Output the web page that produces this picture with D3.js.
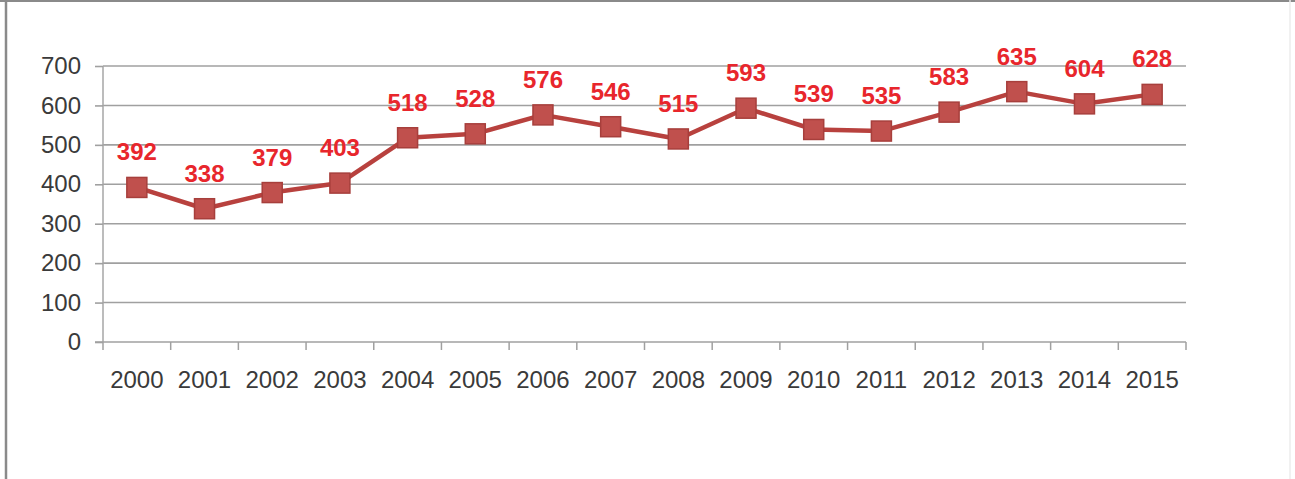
<!DOCTYPE html>
<html>
<head>
<meta charset="utf-8">
<script src="https://cdn.jsdelivr.net/npm/d3@7/dist/d3.min.js"></script>
<style>
  html, body { margin: 0; padding: 0; background: #fff; }
  svg { display: block; }
</style>
</head>
<body>
<svg id="chart" width="1295" height="479"></svg>
<script>
// Yearly totals, 2000–2015
const years = ["2000","2001","2002","2003","2004","2005","2006","2007","2008","2009","2010","2011","2012","2013","2014","2015"];
const values = [392, 338, 379, 403, 518, 528, 576, 546, 515, 593, 539, 535, 583, 635, 604, 628];
const yTicks = [0, 100, 200, 300, 400, 500, 600, 700];

(function draw() {
  const svg = d3.select("#chart");
  const W = 1295, H = 479;
  const font = "'Liberation Sans', Arial, sans-serif";

  // Outer frame
  svg.append("rect").attr("x", 0).attr("y", 0).attr("width", W).attr("height", H).attr("fill", "#fff");
  svg.append("line").attr("x1", 0).attr("x2", W).attr("y1", 1).attr("y2", 1).attr("stroke", "#8a8a8a").attr("stroke-width", 2);
  svg.append("line").attr("x1", 6).attr("x2", 6).attr("y1", 0).attr("y2", H).attr("stroke", "#8a8a8a").attr("stroke-width", 2.5);
  svg.append("line").attr("x1", 1290).attr("x2", 1290).attr("y1", 0).attr("y2", H).attr("stroke", "#ececec").attr("stroke-width", 1.5);

  const pLeft = 103, pRight = 1186, pTop = 66, pBottom = 342;

  const x = d3.scaleBand().domain(years).range([pLeft, pRight]).paddingInner(0).paddingOuter(0);
  const y = d3.scaleLinear().domain([0, 700]).range([pBottom, pTop]);

  // Horizontal gridlines
  svg.append("g")
    .selectAll("line")
    .data(yTicks.filter(d => d > 0))
    .join("line")
    .attr("x1", pLeft).attr("x2", pRight)
    .attr("y1", d => y(d)).attr("y2", d => y(d))
    .attr("stroke", "#a0a0a0").attr("stroke-width", 1.6);

  // Y axis
  const yAxis = svg.append("g")
    .attr("transform", `translate(${pLeft},0)`)
    .call(d3.axisLeft(y).tickValues(yTicks).tickSize(8).tickPadding(14).tickFormat(d3.format("d")));
  yAxis.select(".domain").attr("stroke", "#a6a6a6").attr("stroke-width", 1.5).attr("d", `M0,${pTop}V${pBottom}`);
  yAxis.selectAll(".tick line").attr("stroke", "#a0a0a0").attr("stroke-width", 1.6);
  yAxis.selectAll("text")
    .attr("fill", "#3a3a3a")
    .style("font-family", font)
    .style("font-size", "24px");

  // X axis with ticks at category boundaries
  const xAxisG = svg.append("g").attr("transform", `translate(0,${pBottom})`);
  xAxisG.append("line")
    .attr("x1", pLeft - 8).attr("x2", pRight)
    .attr("stroke", "#a0a0a0").attr("stroke-width", 1.6);
  const bounds = years.map(d => x(d)).concat([pRight]);
  xAxisG.selectAll("line.tk")
    .data(bounds)
    .join("line")
    .attr("class", "tk")
    .attr("x1", d => d).attr("x2", d => d)
    .attr("y1", 0).attr("y2", 8)
    .attr("stroke", "#a0a0a0").attr("stroke-width", 1.5);
  xAxisG.selectAll("text")
    .data(years)
    .join("text")
    .attr("x", d => x(d) + x.bandwidth() / 2)
    .attr("y", 46)
    .attr("text-anchor", "middle")
    .attr("fill", "#3a3a3a")
    .style("font-family", font)
    .style("font-size", "24px")
    .text(d => d);

  const cx = d => x(d) + x.bandwidth() / 2;
  const data = years.map((yr, i) => ({ yr, v: values[i] }));

  // Series line
  svg.append("path")
    .datum(data)
    .attr("fill", "none")
    .attr("stroke", "#b8413e")
    .attr("stroke-width", 4.5)
    .attr("stroke-linejoin", "round")
    .attr("d", d3.line().x(d => cx(d.yr)).y(d => y(d.v)));

  // Square markers
  const ms = 20;
  svg.append("g")
    .selectAll("rect")
    .data(data)
    .join("rect")
    .attr("x", d => cx(d.yr) - ms / 2)
    .attr("y", d => y(d.v) - ms / 2)
    .attr("width", ms).attr("height", ms)
    .attr("fill", "#c0504d")
    .attr("stroke", "#a73f3c")
    .attr("stroke-width", 1.5);

  // Value labels
  svg.append("g")
    .selectAll("text")
    .data(data)
    .join("text")
    .attr("x", d => cx(d.yr))
    .attr("y", d => y(d.v) - 27)
    .attr("text-anchor", "middle")
    .attr("fill", "#e8262c")
    .style("font-family", font)
    .style("font-weight", "bold")
    .style("font-size", "24px")
    .text(d => d.v);
})();
</script>
</body>
</html>
